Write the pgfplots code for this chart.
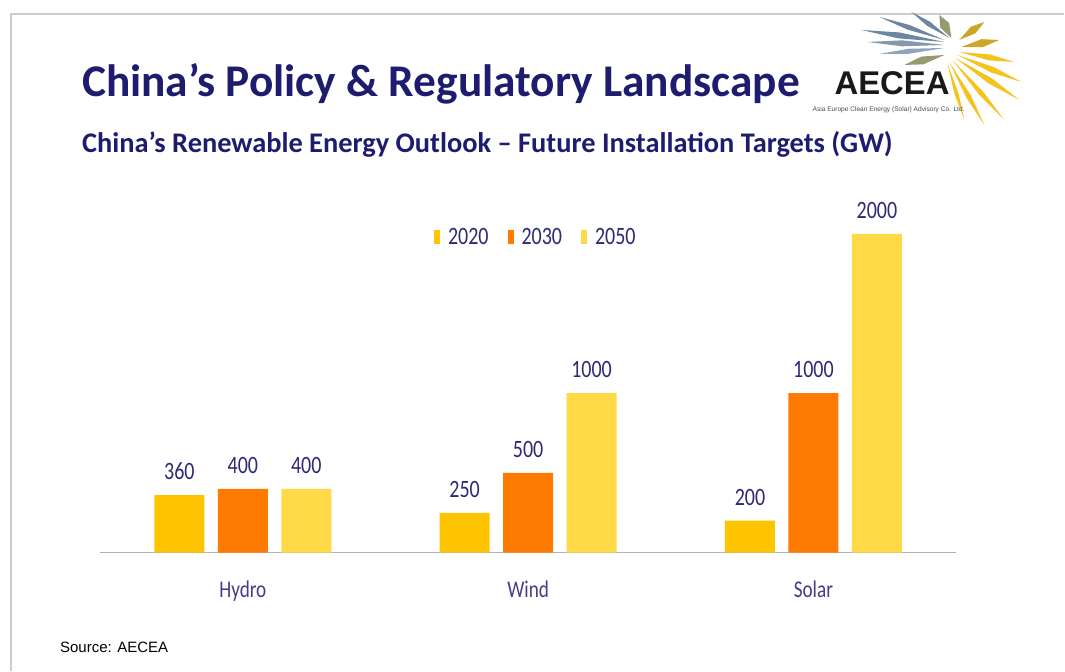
\documentclass[border=0pt]{standalone}
\usepackage{pgfplots}
\pgfplotsset{compat=1.18}
\usepackage{fontspec}
\setmainfont{Carlito}
\newfontfamily\cond[FakeStretch=0.8]{Carlito}
\newfontfamily\arial{Liberation Sans}
\usetikzlibrary{calc}
\definecolor{navy}{RGB}{30,28,110}
\definecolor{lblue}{RGB}{45,42,118}
\definecolor{catc}{RGB}{70,60,140}
\definecolor{c2020}{RGB}{255,196,0}
\definecolor{c2030}{RGB}{255,122,0}
\definecolor{c2050}{RGB}{255,218,70}
\definecolor{raybl}{RGB}{110,135,160}
\definecolor{raygr}{RGB}{150,155,110}
\definecolor{raygd}{RGB}{205,165,40}
\definecolor{rayyl}{RGB}{245,195,30}
\newcommand\ray[4]{\fill[#4] (#1) -- ($(#1)!0.55!(#2)!#3!90:(#2)$) -- (#2) -- ($(#1)!0.55!(#2)!#3!-90:(#2)$) -- cycle;}
\begin{document}
\begin{tikzpicture}
\fill[white] (0,0) rectangle (1065pt,-671pt);
\draw[gray!40, line width=1.5pt] (11pt,-671pt) -- (11pt,-14pt) -- (1065pt,-14pt);
\node[anchor=base west, inner sep=0pt, text=navy] at (82pt,-97pt) {\resizebox{718pt}{!}{\fontsize{36}{40}\selectfont\bfseries China’s Policy \& Regulatory Landscape}};
\node[anchor=base west, inner sep=0pt, text=navy] at (82pt,-153pt) {\resizebox{811pt}{!}{\fontsize{23}{28}\selectfont\bfseries China’s Renewable Energy Outlook – Future Installation Targets (GW)}};
\node[anchor=base west, inner sep=0pt, text=black] at (60pt,-653pt) {\resizebox{108pt}{!}{\arial\fontsize{15}{18}\selectfont Source: AECEA}};
% logo
\ray{945pt,-40pt}{880pt,-17pt}{2.5pt}{raybl}
\ray{945pt,-42pt}{862pt,-30pt}{3pt}{raybl}
\ray{945pt,-45pt}{868pt,-42pt}{3pt}{raybl!85}
\ray{945pt,-48pt}{880pt,-54pt}{2.5pt}{raybl!75}
\ray{950pt,-38pt}{912pt,-12pt}{2.5pt}{raybl}
\ray{952pt,-38pt}{940pt,-15pt}{5pt}{raygr}
\ray{960pt,-40pt}{985pt,-22pt}{4pt}{raygd}
\ray{962pt,-47pt}{1000pt,-40pt}{4pt}{raygd}
\ray{945pt,-55pt}{905pt,-65pt}{4pt}{raygr}
\ray{960pt,-52pt}{1015pt,-62pt}{3pt}{rayyl}
\ray{958pt,-55pt}{1022pt,-82pt}{3pt}{rayyl}
\ray{956pt,-58pt}{1020pt,-100pt}{3pt}{rayyl}
\ray{953pt,-60pt}{1005pt,-120pt}{2.5pt}{rayyl}
\ray{950pt,-62pt}{985pt,-125pt}{2.5pt}{rayyl}
\ray{948pt,-63pt}{965pt,-120pt}{2pt}{rayyl}
\node[anchor=base west, inner sep=0pt, text=black!90] at (835pt,-95pt) {\resizebox{115pt}{!}{\arial\bfseries AECEA}};
\node[anchor=base west, inner sep=0pt, text=black!70] at (813pt,-112pt) {\resizebox{152pt}{!}{\arial\fontsize{6}{7}\selectfont Asia Europe Clean Energy (Solar) Advisory Co. Ltd.}};
\begin{axis}[
  at={(100.25pt,-553pt)}, anchor=south west,
  x=285.5pt, y=0.1595pt,
  xmin=-0.5, xmax=2.5, ymin=0, ymax=2150,
  clip=false,
  ybar=13.5pt, bar width=50pt,
  axis x line=bottom, axis y line=none,
  axis line style={draw=gray!60, line width=1.3pt, -},
  xtick={0,1,2}, xticklabels={Hydro,Wind,Solar},
  major tick length=0pt, ytick=\empty,
  xticklabel style={font=\cond\fontsize{24}{28}\selectfont, text=catc, anchor=north, inner sep=0pt, yshift=-28pt},
  /pgf/number format/1000 sep={}, /pgf/number format/assume math mode=true,
  nodes near coords,
  every node near coord/.append style={font=\cond\fontsize{25}{28}\selectfont, text=lblue, inner sep=0pt, yshift=15pt},
  legend style={at={(0.509,0.921)}, anchor=center, draw=none, fill=none, legend columns=3,
    font=\cond\fontsize{25}{30}\selectfont, text=lblue,
    /tikz/every odd column/.append style={column sep=6pt},
    /tikz/every even column/.append style={column sep=17pt}},
  legend image code/.code={\fill[#1] (0pt,-7.5pt) rectangle (6pt,7.5pt);},
]
\addplot[fill=c2020, draw=none] coordinates {(0,360) (1,250) (2,200)};
\addplot[fill=c2030, draw=none] coordinates {(0,400) (1,500) (2,1000)};
\addplot[fill=c2050, draw=none] coordinates {(0,400) (1,1000) (2,2000)};
\legend{2020,2030,2050}
\end{axis}
\end{tikzpicture}
\end{document}
